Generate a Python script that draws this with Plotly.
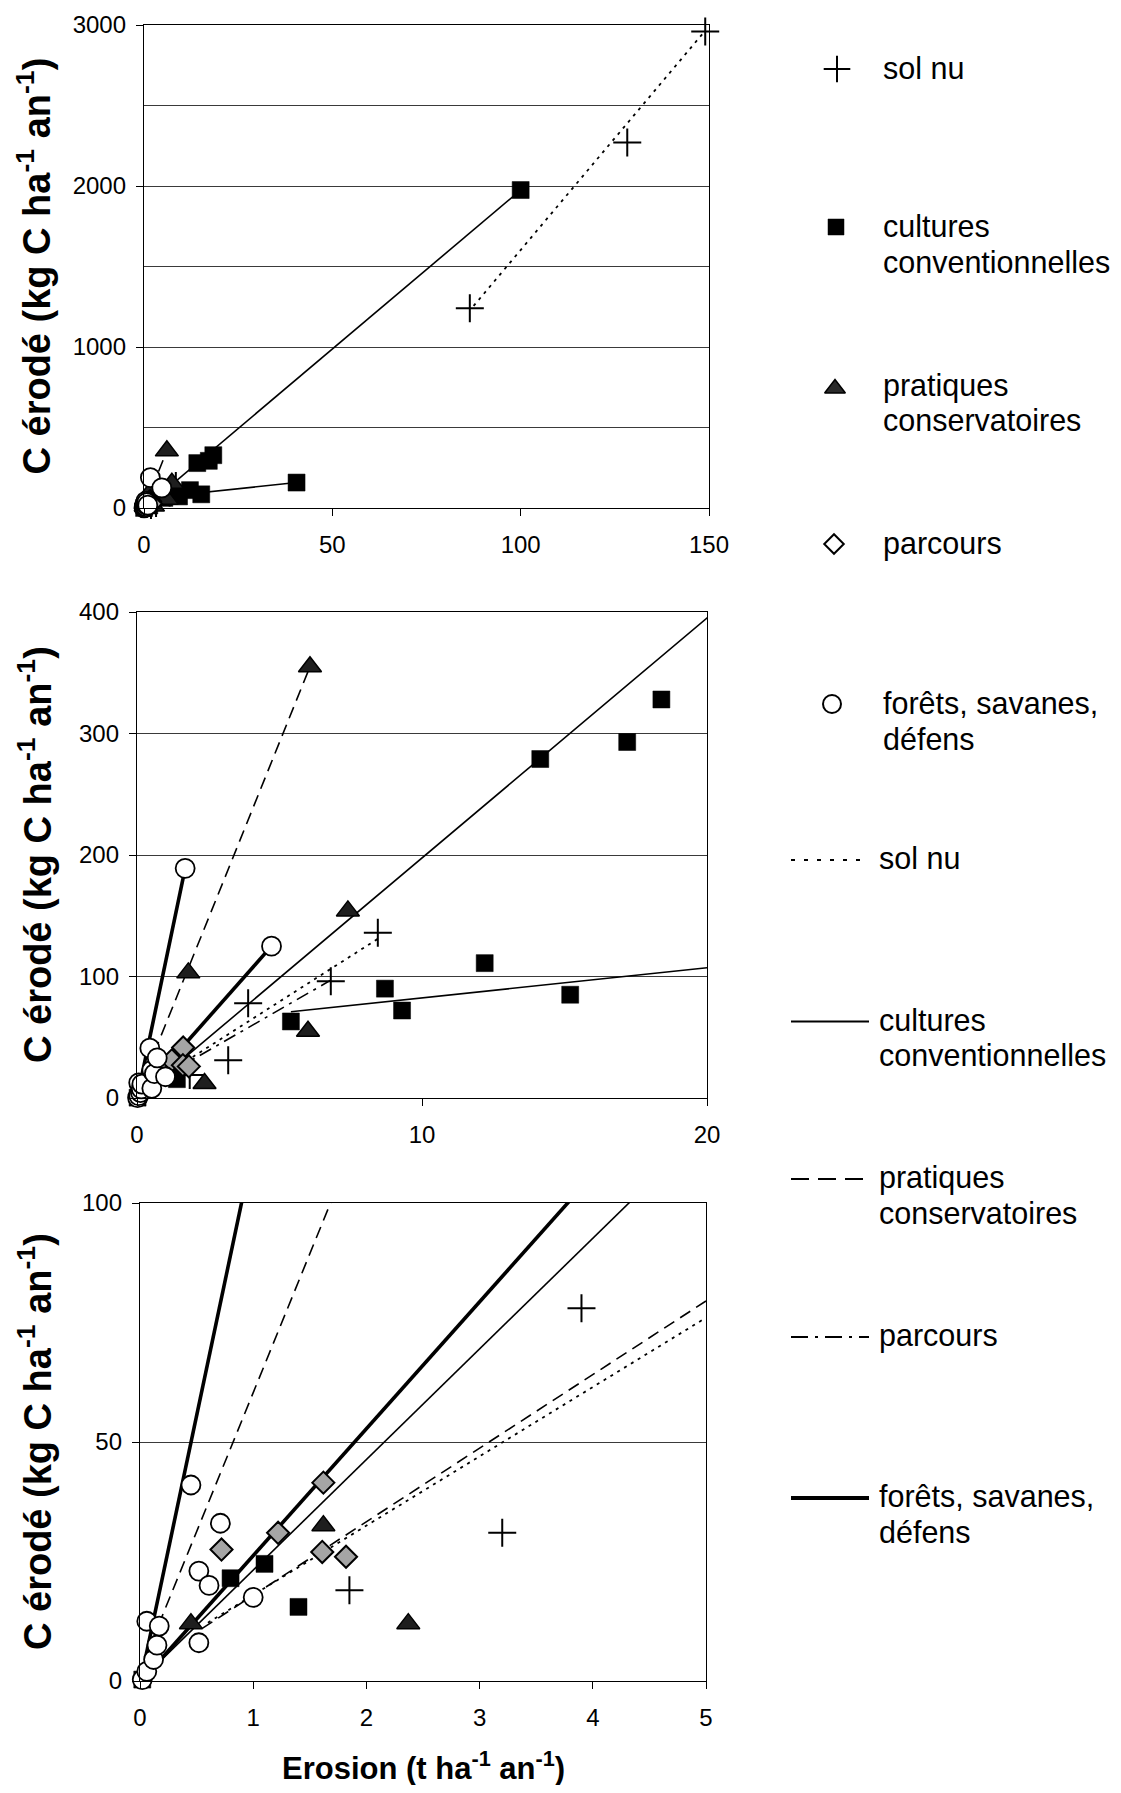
import plotly.graph_objects as go

# ---------------- data ----------------
# points: erosion (t/ha/an) vs eroded carbon (kg C/ha/an)
SOLNU_X = [1.85, 3.2, 3.9, 6.8, 8.45, 86.5, 128.3, 149]
SOLNU_Y = [19, 31, 78, 96, 136, 1240, 2270, 2960]

CULT_X = [0.02, 0.8, 1.1, 1.4, 5.4, 8.7, 9.3, 12.2, 14.15, 15.2, 17.2, 18.4, 40.5, 100]
CULT_Y = [0.3, 21.5, 24.5, 15.5, 63, 90, 72, 111, 279, 85, 293, 328, 158, 1975]

PRAT_X = [0.45, 1.62, 1.8, 2.37, 6.0, 6.07, 7.4]
PRAT_Y = [12, 32.5, 103, 12, 55, 355, 154]

PARC_X = [0.72, 1.22, 1.62, 1.61, 1.82]
PARC_Y = [27.5, 31, 41.5, 27, 26]

FOR_X = [0.02, 0.06, 0.06, 0.12, 0.15, 0.17, 0.45, 0.52, 0.52, 0.61, 0.71, 1.0, 1.69, 4.72]
FOR_Y = [0.3, 2, 12.5, 4.5, 7.5, 11.5, 41, 23, 8, 20, 33, 17.5, 189, 125]

# fitted lines [x0, y0, x1, y1] shown in the two upper panels
SOLNU_FIT = [[0.3, 9, 8.45, 131], [87.5, 1255, 149, 2965]]
CULT_FIT = [[0.3, 6, 100, 1975], [5.4, 71, 40.5, 158]]
PRAT_FIT = [[0.1, 8, 6.07, 355]]
PARC_FIT = [[0.5, 12, 6.8, 97]]
FOR_FIT = [[0.05, 5, 1.69, 189], [0.05, 1, 4.72, 125]]

# fitted lines shown in the bottom (zoomed) panel
SOLNU_FIT_LOW = [[0.6, 12.2, 5, 76]]
CULT_FIT_LOW = [[0.02, 0.5, 4.6, 106.5]]
PRAT_FIT_LOW = [[0.1, 8, 6.07, 355], [0.55, 11, 5, 79.5]]
PARC_FIT_LOW = []
FOR_FIT_LOW = [[0.05, 5, 1.69, 189], [0.05, 1, 4.72, 125]]

CATEGORY_KEYS = ["solnu", "cult", "prat", "parc", "for"]
LEGEND_LABELS = [
    ["sol nu"],
    ["cultures", "conventionnelles"],
    ["pratiques", "conservatoires"],
    ["parcours"],
    ["forêts, savanes,", "défens"],
]

X_RANGES = [[0, 150], [0, 20], [0, 5]]
Y_RANGES = [[0, 3000], [0, 400], [0, 100]]
X_DTICKS = [50, 10, 1]
Y_DTICKS = [1000, 100, 50]
Y_GRID = [500, 100, 50]

Y_TITLE = "C érodé (kg C ha<sup>-1</sup> an<sup>-1</sup>)"
X_TITLE = "Erosion (t ha<sup>-1</sup> an<sup>-1</sup>)"

# ---------------- layout helpers (pixel geometry) ----------------
OFF = 8                      # default page body margin
W, H = 1121 - OFF, 1793 - 16  # figure size
BOXES = [(144, 709, 25, 508), (137, 707, 612, 1098), (140, 706, 1203, 1681)]


def fx(X):
    return (X - OFF) / W


def fy(Y):
    return 1 - (Y - OFF) / H


FONT = "Liberation Sans, Arial, sans-serif"

POINTS = {
    "solnu": (SOLNU_X, SOLNU_Y),
    "cult": (CULT_X, CULT_Y),
    "prat": (PRAT_X, PRAT_Y),
    "parc": (PARC_X, PARC_Y),
    "for": (FOR_X, FOR_Y),
}
FITS = [
    {"solnu": SOLNU_FIT, "cult": CULT_FIT, "prat": PRAT_FIT, "parc": PARC_FIT, "for": FOR_FIT},
    {"solnu": SOLNU_FIT, "cult": CULT_FIT, "prat": PRAT_FIT, "parc": PARC_FIT, "for": FOR_FIT},
    {"solnu": SOLNU_FIT_LOW, "cult": CULT_FIT_LOW, "prat": PRAT_FIT_LOW,
     "parc": PARC_FIT_LOW, "for": FOR_FIT_LOW},
]

LINE_STYLE = {
    "solnu": dict(color="black", width=1.8, dash="3px,5px"),
    "cult": dict(color="black", width=1.6),
    "prat": dict(color="black", width=1.6, dash="12px,7px"),
    "parc": dict(color="black", width=1.6, dash="13px,6px,3px,6px"),
    "for": dict(color="black", width=3.6),
}
LEGEND_LINE_STYLE = {
    "solnu": dict(color="black", width=2, dash="4px,9px"),
    "cult": dict(color="black", width=1.8),
    "prat": dict(color="black", width=1.8, dash="18px,9px"),
    "parc": dict(color="black", width=1.8, dash="17px,7px,3px,7px"),
    "for": dict(color="black", width=3.8),
}
MARKER_STYLE = {
    "solnu": dict(symbol="cross-thin", size=20, color="black", line=dict(color="black", width=2)),
    "cult": dict(symbol="square", size=17, color="black", line=dict(color="black", width=0.5)),
    "prat": dict(symbol="triangle-up", size=20, color="#1e1e1e", line=dict(color="black", width=1.5)),
    "parc": dict(symbol="diamond", size=17, color="#a5a5a5", line=dict(color="black", width=2)),
    "for": dict(symbol="circle", size=19, color="white", line=dict(color="black", width=1.8)),
}
LEGEND_MARKER_STYLE = {
    "solnu": dict(symbol="cross-thin", size=19, color="black", line=dict(color="black", width=2)),
    "cult": dict(symbol="square", size=16, color="black", line=dict(color="black", width=0.5)),
    "prat": dict(symbol="triangle-up", size=18, color="#2a2a2a", line=dict(color="black", width=1.5)),
    "parc": dict(symbol="diamond", size=15, color="white", line=dict(color="black", width=2)),
    "for": dict(symbol="circle", size=18, color="white", line=dict(color="black", width=2)),
}

fig = go.Figure()

for i in range(3):
    xa = "x" if i == 0 else f"x{i + 1}"
    ya = "y" if i == 0 else f"y{i + 1}"
    # fitted lines
    for key in CATEGORY_KEYS:
        for seg in FITS[i][key]:
            fig.add_trace(go.Scatter(
                x=[seg[0], seg[2]], y=[seg[1], seg[3]], mode="lines",
                line=LINE_STYLE[key], xaxis=xa, yaxis=ya,
                showlegend=False, hoverinfo="skip"))
    # points (only those inside the panel range)
    for key in CATEGORY_KEYS:
        xs, ys = POINTS[key]
        sel = [(x, y) for x, y in zip(xs, ys)
               if x <= X_RANGES[i][1] and y <= Y_RANGES[i][1]]
        fig.add_trace(go.Scatter(
            x=[s[0] for s in sel], y=[s[1] for s in sel], mode="markers",
            marker=MARKER_STYLE[key], cliponaxis=False, xaxis=xa, yaxis=ya,
            showlegend=False, hoverinfo="skip"))

    l, r, t, b = BOXES[i]
    xkey = "xaxis" if i == 0 else f"xaxis{i + 1}"
    ykey = "yaxis" if i == 0 else f"yaxis{i + 1}"
    fig.update_layout({
        xkey: dict(
            domain=[fx(l), fx(r)], range=X_RANGES[i], anchor=ya, automargin=False,
            tickmode="linear", tick0=0, dtick=X_DTICKS[i],
            showline=True, linecolor="black", linewidth=1.3, mirror=True,
            ticks="outside", ticklen=7, tickwidth=1.3, tickcolor="black",
            showgrid=False, zeroline=False, ticklabelstandoff=8,
            tickfont=dict(family=FONT, size=24, color="black"),
        ),
        ykey: dict(
            domain=[fy(b), fy(t)], range=Y_RANGES[i], anchor=xa, automargin=False,
            tickmode="linear", tick0=0, dtick=Y_DTICKS[i],
            showline=True, linecolor="black", linewidth=1.3, mirror=True,
            ticks="outside", ticklen=7, tickwidth=1.3, tickcolor="black",
            showgrid=True, gridcolor="#3a3a3a", gridwidth=1,
            minor=dict(dtick=Y_GRID[i], tick0=0, showgrid=True,
                       gridcolor="#3a3a3a", gridwidth=1, ticks=""),
            zeroline=False, ticklabelstandoff=5,
            tickfont=dict(family=FONT, size=24, color="black"),
        ),
    })

# overlay axis in page pixel units for the legend
fig.update_layout(
    xaxis4=dict(domain=[0, 1], range=[OFF, OFF + W], visible=False, anchor="y4",
                fixedrange=True, automargin=False),
    yaxis4=dict(domain=[0, 1], range=[OFF + H, OFF], visible=False, anchor="x4",
                fixedrange=True, automargin=False),
)

# legend geometry (style constants, page pixels)
LEG_MARK_X = [837, 836, 835, 834, 832]
LEG_TOP_Y = [68, 226, 384.5, 543, 703]
LEG_TOP_TX = 883
LEG_LINE_X = [791, 869]
LEG_BOT_Y = [858, 1019.5, 1177, 1335, 1496]
LEG_BOT_TX = 879
LINE_GAP = 35.5
TEXT_DY = 3.5

txt_x, txt_y, txt_s = [], [], []
for k, key in enumerate(CATEGORY_KEYS):
    fig.add_trace(go.Scatter(
        x=[LEG_MARK_X[k]], y=[LEG_TOP_Y[k] + (4 if key == "prat" else 1)], mode="markers",
        marker=LEGEND_MARKER_STYLE[key], cliponaxis=False, xaxis="x4", yaxis="y4",
        showlegend=False, hoverinfo="skip"))
    fig.add_trace(go.Scatter(
        x=LEG_LINE_X, y=[LEG_BOT_Y[k] + 2, LEG_BOT_Y[k] + 2], mode="lines",
        line=LEGEND_LINE_STYLE[key], cliponaxis=False, xaxis="x4", yaxis="y4",
        showlegend=False, hoverinfo="skip"))
    for j, txt in enumerate(LEGEND_LABELS[k]):
        for tx, ty in ((LEG_TOP_TX, LEG_TOP_Y[k]), (LEG_BOT_TX, LEG_BOT_Y[k])):
            txt_x.append(tx)
            txt_y.append(ty + j * LINE_GAP + TEXT_DY)
            txt_s.append(txt)

fig.add_trace(go.Scatter(
    x=txt_x, y=txt_y, text=txt_s, mode="text", textposition="middle right",
    textfont=dict(family=FONT, size=30.5, color="black"), cliponaxis=False,
    xaxis="x4", yaxis="y4", showlegend=False, hoverinfo="skip"))

annotations = []
for (l, r, t, b) in BOXES:
    annotations.append(dict(
        x=fx(35), y=fy((t + b) / 2), xref="paper", yref="paper", text=Y_TITLE,
        textangle=-90, showarrow=False, xanchor="center", yanchor="middle",
        font=dict(family=FONT, size=38, color="black", weight="bold")))

annotations.append(dict(
    x=fx(423), y=fy(1766), xref="paper", yref="paper", text=X_TITLE, showarrow=False,
    xanchor="center", yanchor="middle",
    font=dict(family=FONT, size=31, color="black", weight="bold")))

fig.update_layout(
    width=W, height=H, autosize=False,
    margin=dict(l=0, r=0, t=0, b=0, pad=0, autoexpand=False),
    paper_bgcolor="white", plot_bgcolor="rgba(0,0,0,0)",
    showlegend=False, hovermode=False,
    annotations=annotations,
)

fig.write_html("out.html", config={"displayModeBar": False})
